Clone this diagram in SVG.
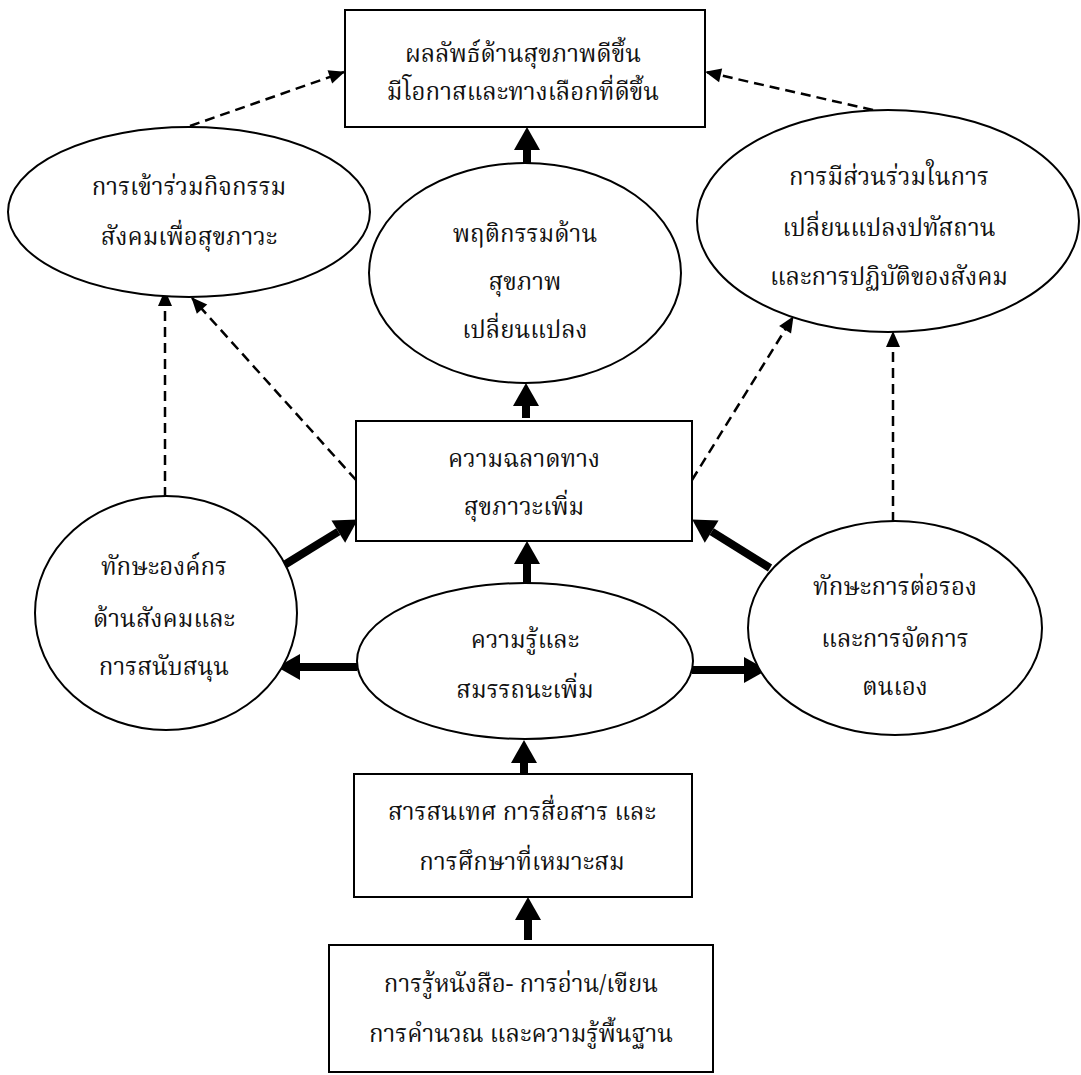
<svg xmlns="http://www.w3.org/2000/svg" width="1081" height="1075" viewBox="0 0 1081 1075">
<style>
.shape{fill:#fff;stroke:#000;stroke-width:2}
.t{font-family:"Noto Serif Thai","Noto Sans Thai","TH Sarabun New","Angsana New","Loma","Garuda","Liberation Serif",serif;font-size:24px;fill:#111;text-anchor:middle}
.thick{stroke:#000;stroke-width:8;fill:none;marker-end:url(#th)}
.dash{stroke:#000;stroke-width:2.5;fill:none;stroke-dasharray:10 6;marker-end:url(#dh)}
</style>
<defs>
<marker id="th" markerUnits="userSpaceOnUse" markerWidth="24" markerHeight="26" viewBox="0 0 24 26" refX="0" refY="13" orient="auto" overflow="visible"><path d="M0,0 L23,13 L0,26 z" fill="#000"/></marker>
<marker id="dh" markerUnits="userSpaceOnUse" markerWidth="16" markerHeight="14" viewBox="0 0 16 14" refX="15" refY="7" orient="auto" overflow="visible"><path d="M0,0 L16,7 L0,14 z" fill="#000"/></marker>
</defs>
<rect width="1081" height="1075" fill="#fff"/>
<g id="connectors">
<line class="thick" x1="527" y1="164" x2="527" y2="150"/>
<line class="thick" x1="526" y1="418" x2="526" y2="406"/>
<line class="thick" x1="527" y1="584" x2="527" y2="564"/>
<line class="thick" x1="524" y1="774" x2="524" y2="763"/>
<line class="thick" x1="528" y1="940" x2="528" y2="920"/>
<line class="thick" x1="357" y1="667" x2="300" y2="667"/>
<line class="thick" x1="692" y1="670" x2="744" y2="670"/>
<line class="thick" x1="281" y1="567" x2="338.3" y2="531.6"/>
<line class="thick" x1="770" y1="568" x2="711.7" y2="531.6"/>
<line class="dash" x1="190" y1="126" x2="344" y2="72"/>
<line class="dash" x1="873" y1="110" x2="706" y2="72"/>
<line class="dash" x1="165" y1="497" x2="165" y2="291"/>
<line class="dash" x1="356" y1="480" x2="192" y2="298"/>
<line class="dash" x1="692" y1="480" x2="793" y2="317"/>
<line class="dash" x1="893" y1="522" x2="893" y2="332"/>
</g>
<g id="n-outcome"><rect class="shape" x="345" y="10" width="360" height="117"/>
<text class="t" x="523" y="62">ผลลัพธ์ด้านสุขภาพดีขึ้น</text><text class="t" x="523" y="100">มีโอกาสและทางเลือกที่ดีขึ้น</text></g>
<g id="n-participation"><ellipse class="shape" cx="189" cy="212" rx="181" ry="85"/>
<text class="t" x="189" y="195">การเข้าร่วมกิจกรรม</text><text class="t" x="189" y="245">สังคมเพื่อสุขภาวะ</text></g>
<g id="n-behavior"><ellipse class="shape" cx="525" cy="273" rx="156" ry="110"/>
<text class="t" x="525" y="242">พฤติกรรมด้าน</text><text class="t" x="525" y="290">สุขภาพ</text><text class="t" x="525" y="338">เปลี่ยนแปลง</text></g>
<g id="n-norms"><ellipse class="shape" cx="888" cy="221" rx="191" ry="111"/>
<text class="t" x="889" y="185">การมีส่วนร่วมในการ</text><text class="t" x="889" y="236">เปลี่ยนแปลงปทัสถาน</text><text class="t" x="889" y="285">และการปฏิบัติของสังคม</text></g>
<g id="n-literacy"><rect class="shape" x="356" y="421" width="336" height="120"/>
<text class="t" x="524" y="467">ความฉลาดทาง</text><text class="t" x="524" y="515">สุขภาวะเพิ่ม</text></g>
<g id="n-organize"><ellipse class="shape" cx="166" cy="613" rx="131" ry="117"/>
<text class="t" x="164" y="575">ทักษะองค์กร</text><text class="t" x="164" y="627">ด้านสังคมและ</text><text class="t" x="164" y="675">การสนับสนุน</text></g>
<g id="n-knowledge"><ellipse class="shape" cx="525" cy="661" rx="168" ry="78"/>
<text class="t" x="525" y="648">ความรู้และ</text><text class="t" x="525" y="698">สมรรถนะเพิ่ม</text></g>
<g id="n-negotiate"><ellipse class="shape" cx="895" cy="628" rx="147" ry="107"/>
<text class="t" x="895" y="595">ทักษะการต่อรอง</text><text class="t" x="895" y="647">และการจัดการ</text><text class="t" x="895" y="695">ตนเอง</text></g>
<g id="n-info"><rect class="shape" x="354" y="774" width="338" height="123"/>
<text class="t" x="522" y="820">สารสนเทศ การสื่อสาร และ</text><text class="t" x="522" y="870">การศึกษาที่เหมาะสม</text></g>
<g id="n-basic"><rect class="shape" x="329" y="945" width="384" height="127"/>
<text class="t" x="521" y="992">การรู้หนังสือ- การอ่าน/เขียน</text><text class="t" x="521" y="1042">การคำนวณ และความรู้พื้นฐาน</text></g>
</svg>
